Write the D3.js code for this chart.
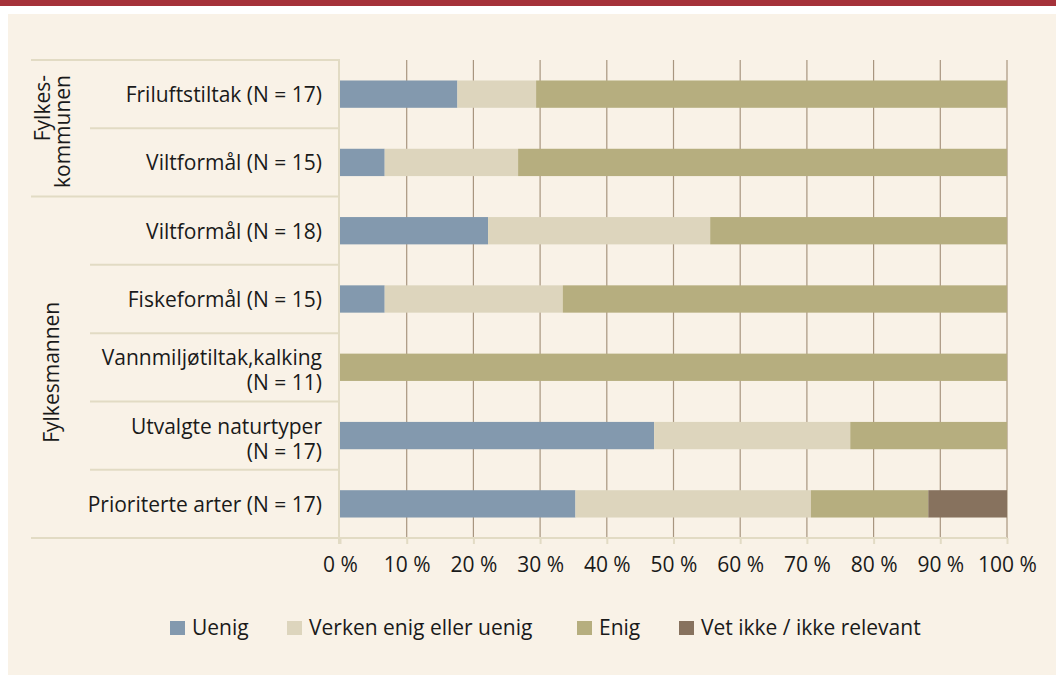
<!DOCTYPE html>
<html>
<head>
<meta charset="utf-8">
<script src="https://cdn.jsdelivr.net/npm/d3@7"></script>
<style>
  body { margin: 0; background: #fff; }
  svg text { font-family: "Open Sans", "Noto Sans", sans-serif; fill: #1a1a1a; }
</style>
</head>
<body>
<div id="chart"></div>
<script>
// categories top to bottom, label lines
var categories = [
    ["Friluftstiltak (N = 17)"],
    ["Viltformål (N = 15)"],
    ["Viltformål (N = 18)"],
    ["Fiskeformål (N = 15)"],
    ["Vannmiljøtiltak,kalking", "(N = 11)"],
    ["Utvalgte naturtyper", "(N = 17)"],
    ["Prioriterte arter (N = 17)"]
];
var groups = [
    {lines: ["Fylkes-", "kommunen"], from: 0, to: 2},
    {lines: ["Fylkesmannen"], from: 2, to: 7}
];
var seriesNames = ["Uenig", "Verken enig eller uenig", "Enig", "Vet ikke / ikke relevant"];
var uenig  = [17.6, 6.7, 22.2, 6.7, 0, 47.1, 35.3];
var verken = [11.8, 20.0, 33.3, 26.7, 0, 29.4, 35.3];
var enig   = [70.6, 73.3, 44.5, 66.6, 100, 23.5, 17.6];
var vetIkke = [0, 0, 0, 0, 0, 0, 11.8];
var ticks = [0, 10, 20, 30, 40, 50, 60, 70, 80, 90, 100];
var colors = ["#8399ae", "#ddd5bd", "#b6ae7f", "#87725e"];

var W = 1056, H = 675, FS = 21;
var svg = d3.select("#chart").append("svg")
    .attr("width", W).attr("height", H);

// frame
svg.append("rect").attr("x", 0).attr("y", 0).attr("width", W).attr("height", 6).attr("fill", "#a5323a");
svg.append("rect").attr("x", 8).attr("y", 14).attr("width", W - 8).attr("height", H - 14).attr("fill", "#f9f2e7");

var pLeft = 340, pRight = 1007, pTop = 60, pBottom = 538;
var x = d3.scaleLinear().domain([0, 100]).range([pLeft, pRight]);
var y = d3.scaleBand().domain(d3.range(categories.length)).range([pTop, pBottom])
    .paddingInner(0.6).paddingOuter(0.3);
var bandTop = function(i) { return pTop + i * (pBottom - pTop) / categories.length; };

// stacked data
var rows = categories.map(function(c, i) {
    return {i: i, uenig: uenig[i], verken: verken[i], enig: enig[i], vet: vetIkke[i]};
});
var layers = d3.stack().keys(["uenig", "verken", "enig", "vet"])(rows);

// gridlines
svg.append("g").selectAll("line").data(ticks.slice(1)).enter().append("line")
    .attr("x1", function(d) { return x(d); }).attr("x2", function(d) { return x(d); })
    .attr("y1", pTop).attr("y2", pBottom)
    .attr("stroke", "#a8957f").attr("stroke-width", 1.2);

// bars
svg.append("g").selectAll("g").data(layers).enter().append("g")
    .attr("fill", function(d, k) { return colors[k]; })
    .selectAll("rect").data(function(d) { return d; }).enter().append("rect")
    .attr("x", function(d) { return x(d[0]); })
    .attr("width", function(d) { return x(d[1]) - x(d[0]); })
    .attr("y", function(d) { return y(d.data.i); })
    .attr("height", y.bandwidth());

// table lines on the left
var lineColor = "#e2dbc4";
var tbl = svg.append("g").attr("stroke", lineColor).attr("stroke-width", 2);
var hl = [];
for (var i = 0; i <= categories.length; i++) {
    var outer = groups.some(function(g) { return g.from === i; }) || i === categories.length;
    hl.push({y: bandTop(i), x0: outer ? 31 : 90});
}
tbl.selectAll("line").data(hl).enter().append("line")
    .attr("x1", function(d) { return d.x0; }).attr("x2", pLeft)
    .attr("y1", function(d) { return d.y; }).attr("y2", function(d) { return d.y; });
tbl.append("line").attr("x1", pLeft - 1).attr("x2", pLeft - 1).attr("y1", pTop).attr("y2", pBottom + 6);

// x axis
var xAxis = svg.append("g").attr("transform", "translate(0," + pBottom + ")")
    .call(d3.axisBottom(x).tickValues(ticks).tickSize(6).tickPadding(13)
        .tickFormat(function(d) { return d + " %"; }));
xAxis.select(".domain").attr("stroke", lineColor).attr("stroke-width", 2)
    .attr("d", "M" + pLeft + ",0H" + pRight);
xAxis.selectAll(".tick line").attr("stroke", lineColor).attr("stroke-width", 2);
xAxis.selectAll(".tick text").attr("font-size", FS)
    .attr("font-family", "Open Sans, sans-serif").attr("fill", "#1a1a1a");

// category labels, one text per line
var labelLines = [];
categories.forEach(function(c, i) {
    c.forEach(function(s, k) {
        labelLines.push({text: s, y: y(i) + y.bandwidth() / 2 + 8 - (c.length - 1) * 10 + k * 25});
    });
});
svg.append("g").selectAll("text").data(labelLines).enter().append("text")
    .attr("text-anchor", "end").attr("font-size", FS)
    .attr("x", 322).attr("y", function(d) { return d.y; })
    .text(function(d) { return d.text; });

// group labels, rotated
groups.forEach(function(g) {
    var multi = g.lines.length > 1;
    var cy = multi ? bandTop(g.from) + 15 : (bandTop(g.from) + bandTop(g.to)) / 2 + 5;
    var t = svg.append("text").attr("text-anchor", multi ? "end" : "middle").attr("font-size", FS)
        .attr("transform", "translate(" + (multi ? 50 : 59) + "," + cy + ") rotate(-90)");
    t.selectAll("tspan").data(g.lines).enter().append("tspan")
        .attr("x", 0).attr("dy", function(d, k) { return k === 0 ? 0 : 20; })
        .text(function(d) { return d; });
});

// legend
var legendX = [170, 287, 577, 679];
var legend = svg.append("g").selectAll("g").data(seriesNames).enter().append("g")
    .attr("transform", function(d, k) { return "translate(" + legendX[k] + ",621)"; });
legend.append("rect").attr("width", 15).attr("height", 14).attr("y", 0)
    .attr("fill", function(d, k) { return colors[k]; });
legend.append("text").attr("x", 22).attr("y", 14).attr("font-size", FS)
    .text(function(d) { return d; });
</script>
</body>
</html>
